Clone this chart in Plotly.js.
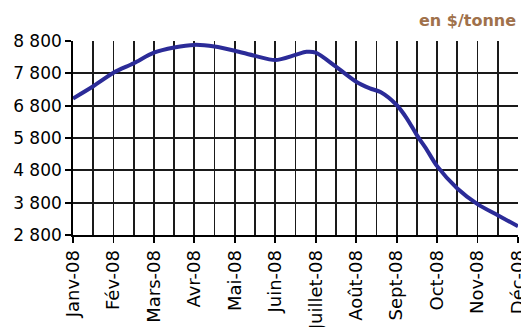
<!DOCTYPE html>
<html>
<head>
<meta charset="utf-8">
<script src="https://cdn.plot.ly/plotly-3.0.1.min.js"></script>
<style>html,body{margin:0;padding:0;background:#fff;}#chart{width:521px;height:327px;}</style>
</head>
<body>
<div id="chart"></div>
<script>
// Month positions (0 = Janv-08 ... 11 = Déc-08)
var monthPos = [0, 0.5, 1, 1.5, 2, 2.5, 3, 3.5, 4, 4.5, 5, 5.5, 5.77, 6, 6.5, 7, 7.34, 7.6, 8, 8.25, 8.5, 8.75, 9, 9.5, 10, 10.5, 11];
var prices =   [7020, 7400, 7820, 8110, 8440, 8600, 8680, 8630, 8500, 8340, 8210, 8370, 8465, 8440, 8005, 7540, 7335, 7220, 6820, 6410, 5890, 5425, 4930, 4240, 3755, 3410, 3070];

var monthTickVals = [0,1,2,3,4,5,6,7,8,9,10,11];
var monthLabels = ["Janv-08","Fév-08","Mars-08","Avr-08","Mai-08","Juin-08","Juillet-08","Août-08","Sept-08","Oct-08","Nov-08","Déc-08"];
var yTickVals = [2800, 3800, 4800, 5800, 6800, 7800, 8800];
var yTickText = ["2 800","3 800","4 800","5 800","6 800","7 800","8 800"];
var unitLabel = "en $/tonne";

var trace = {
  x: monthPos, y: prices, type: 'scatter', mode: 'lines',
  line: {color: '#2b2b98', width: 4, shape: 'spline', smoothing: 0.8},
  hoverinfo: 'skip', cliponaxis: false
};

var gridCol = '#1a1a1a', gw = 1.8;
var layout = {
  width: 521, height: 327,
  margin: {l: 73, r: 3, t: 41, b: 92},
  paper_bgcolor: '#fff', plot_bgcolor: '#fff',
  showlegend: false,
  font: {family: 'DejaVu Sans, Arial, sans-serif', color: '#000'},
  xaxis: {
    range: [0, 11], tickmode: 'array', tickvals: monthTickVals, ticktext: monthLabels,
    tickangle: -90, tickfont: {size: 18, family: 'DejaVu Sans'},
    ticklabeloverflow: 'allow',
    showgrid: true, gridcolor: gridCol, gridwidth: gw,
    ticks: 'outside', ticklen: 6, tickwidth: gw, tickcolor: '#000',
    minor: {dtick: 0.5, tick0: 0, showgrid: true, gridcolor: gridCol, gridwidth: gw, ticks: ''},
    showline: true, linecolor: '#000', linewidth: gw,
    zeroline: false, automargin: false, fixedrange: true
  },
  yaxis: {
    range: [2800, 8800], tickmode: 'array', tickvals: yTickVals, ticktext: yTickText,
    tickfont: {size: 17, family: 'DejaVu Sans'},
    showgrid: true, gridcolor: gridCol, gridwidth: gw,
    ticks: 'outside', ticklen: 6, tickwidth: gw, tickcolor: '#000',
    showline: true, linecolor: '#000', linewidth: gw,
    zeroline: false, automargin: false, fixedrange: true
  },
  annotations: [{
    text: '<b>' + unitLabel + '</b>', xref: 'paper', yref: 'paper',
    x: 1, y: 1, xanchor: 'right', yanchor: 'bottom', yshift: 9, xshift: 0,
    showarrow: false, font: {size: 16, color: '#a0714b', family: 'DejaVu Sans'}
  }]
};

Plotly.newPlot('chart', [trace], layout, {staticPlot: true, displayModeBar: false});
</script>
</body>
</html>
